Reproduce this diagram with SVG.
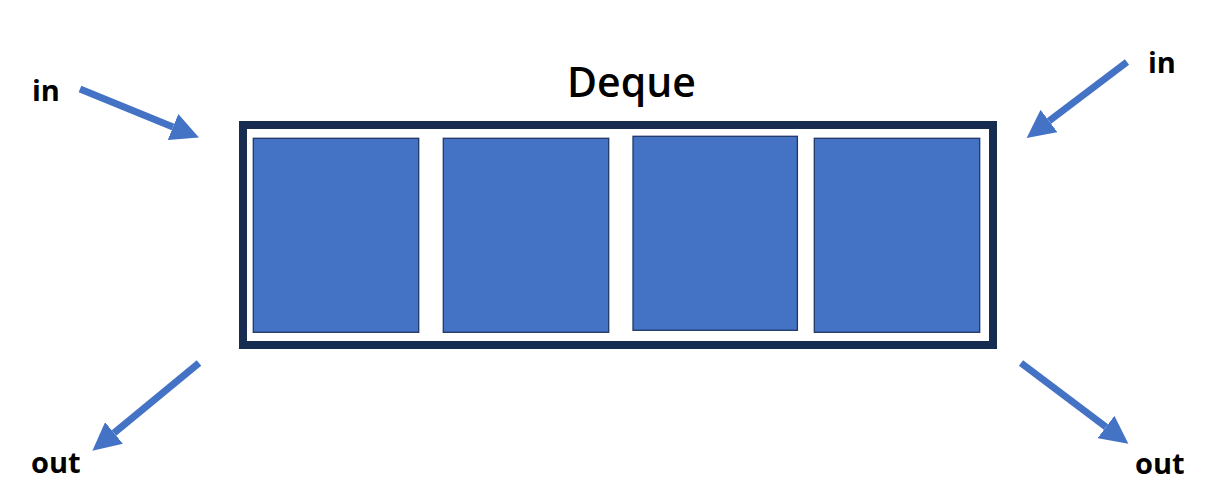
<svg xmlns="http://www.w3.org/2000/svg" width="1211" height="495" viewBox="0 0 1211 495">
<style>
.lbl{font-family:"Open Sans","Noto Sans","Liberation Sans",sans-serif;font-weight:700;font-size:29px;fill:#000}
.title{font-family:"Open Sans","Noto Sans","Liberation Sans",sans-serif;font-weight:600;font-size:41px;fill:#000}
.cell{fill:#4472c4;stroke:#1f3864;stroke-width:1.3}
.arr{stroke:#4472c4;stroke-width:7;fill:none}
</style>
<defs>
<marker id="ah" markerWidth="4" markerHeight="4" refX="0" refY="2" orient="auto" markerUnits="strokeWidth">
<path d="M0,0 L4,2 L0,4 Z" fill="#4472c4"/>
</marker>
</defs>
<rect width="1211" height="495" fill="#fff"/>
<g id="title"><text class="title" x="567" y="97">Deque</text></g>
<g id="deque">
<rect x="243" y="125" width="750" height="220" fill="none" stroke="#162c50" stroke-width="8"/>
</g>
<g id="cell1"><rect class="cell" x="253.3" y="138.3" width="165.4" height="194"/></g>
<g id="cell2"><rect class="cell" x="443.3" y="138.3" width="165.4" height="194"/></g>
<g id="cell3"><rect class="cell" x="633" y="136.3" width="164.4" height="194"/></g>
<g id="cell4"><rect class="cell" x="814.3" y="138.3" width="165.4" height="194"/></g>
<g id="labels">
<text class="lbl" x="32" y="101">in</text>
<text class="lbl" x="1148" y="73">in</text>
<text class="lbl" x="31" y="473">out</text>
<text class="lbl" x="1135" y="474">out</text>
</g>
<g id="connectors">
<line class="arr" x1="80" y1="89" x2="173" y2="127" marker-end="url(#ah)"/>
<line class="arr" x1="1127" y1="62" x2="1049" y2="121" marker-end="url(#ah)"/>
<line class="arr" x1="199" y1="363" x2="114" y2="433" marker-end="url(#ah)"/>
<line class="arr" x1="1021" y1="363" x2="1106" y2="427" marker-end="url(#ah)"/>
</g>
</svg>
